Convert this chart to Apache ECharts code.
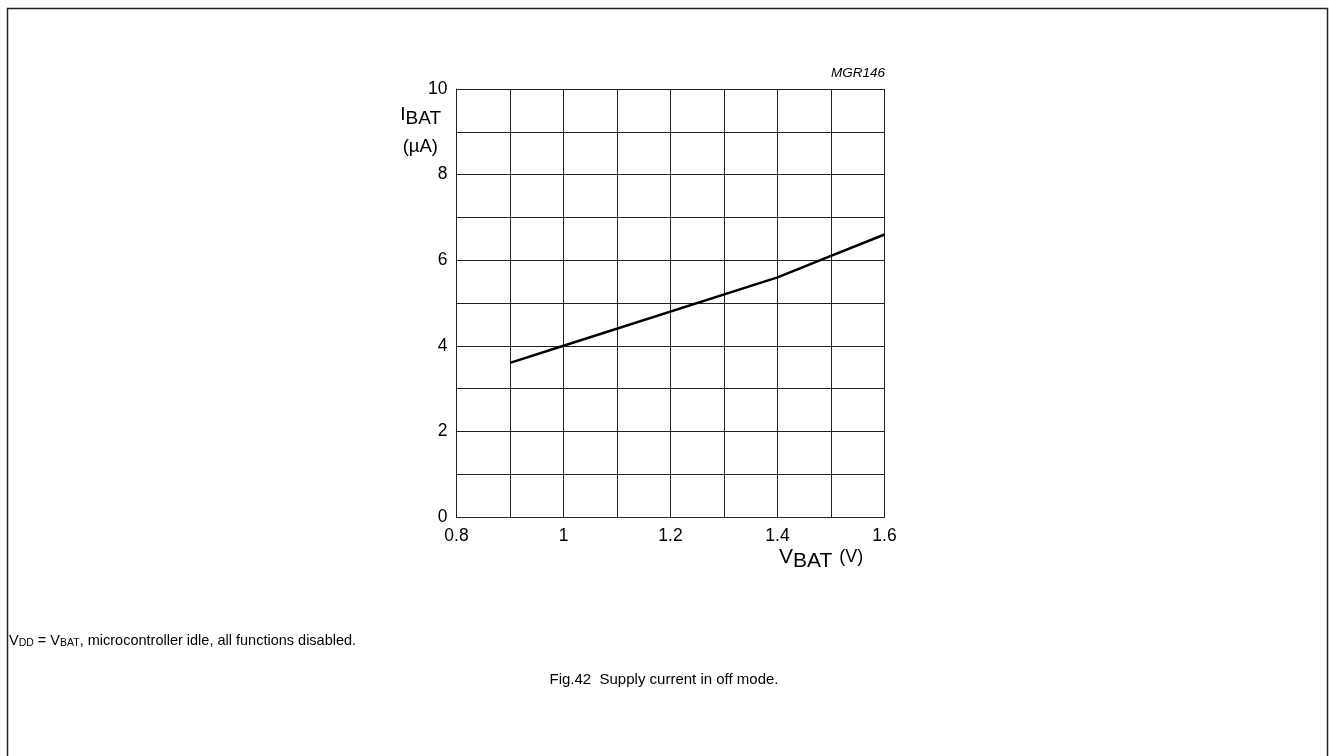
<!DOCTYPE html>
<html>
<head>
<meta charset="utf-8">
<script src="https://cdn.jsdelivr.net/npm/echarts@6/dist/echarts.min.js"></script>
<style>
html,body{margin:0;padding:0;background:#fff;}
#c{width:1329px;height:756px;}
</style>
</head>
<body>
<div id="c"></div>
<script>
// Data
const vbat = [0.9, 1.0, 1.4, 1.5, 1.6];
const ibat = [3.6, 4.0, 5.6, 6.1, 6.6];
const xTickLabels = ['0.8', '1', '1.2', '1.4', '1.6'];
const yTickLabels = ['0', '2', '4', '6', '8', '10'];

const FONT = '"Liberation Sans", Arial, sans-serif';
const chart = echarts.init(document.getElementById('c'), null, {renderer: 'canvas'});
const gridColor = '#222';

chart.setOption({
  animation: false,
  backgroundColor: '#fff',
  grid: {left: 456.5, top: 89, width: 428, height: 428, outerBoundsMode: 'none', containLabel: false},
  xAxis: {
    type: 'value', min: 0.8, max: 1.6, interval: 0.1,
    axisLine: {show: true, lineStyle: {color: gridColor, width: 1}},
    axisTick: {show: false},
    splitLine: {show: true, lineStyle: {color: gridColor, width: 1}},
    axisLabel: {
      color: '#000', fontFamily: FONT, fontSize: 17.5, margin: 10,
      formatter: function (v) {
        const s = String(Math.round(v * 10) / 10);
        return xTickLabels.indexOf(s) >= 0 ? s : '';
      }
    }
  },
  yAxis: {
    type: 'value', min: 0, max: 10, interval: 1,
    axisLine: {show: true, lineStyle: {color: gridColor, width: 1}},
    axisTick: {show: false},
    splitLine: {show: true, lineStyle: {color: gridColor, width: 1}},
    axisLabel: {
      color: '#000', fontFamily: FONT, fontSize: 17.5, margin: 9,
      padding: [6, 0, 0, 0],
      formatter: function (v) {
        const s = String(Math.round(v));
        return yTickLabels.indexOf(s) >= 0 ? s : '';
      }
    }
  },
  series: [{
    type: 'line',
    data: vbat.map((x, i) => [x, ibat[i]]),
    showSymbol: false,
    lineStyle: {color: '#000', width: 2.5},
    z: 5
  }],
  graphic: [
    {type: 'rect', shape: {x: 7.5, y: 8.5, width: 1320, height: 800},
     style: {fill: 'none', stroke: '#222', lineWidth: 1.5}, silent: true},
    {type: 'text', x: 441, y: 105, style: {
      text: '{a|I}{b|BAT}', align: 'right', verticalAlign: 'top',
      rich: {
        a: {fontFamily: FONT, fontSize: 19, fill: '#000', lineHeight: 19},
        b: {fontFamily: FONT, fontSize: 19, fill: '#000', padding: [8, 0, 0, 0], lineHeight: 19}
      }
    }},
    {type: 'text', x: 438, y: 137, style: {
      text: '(\u00b5A)', align: 'right', verticalAlign: 'top',
      fontFamily: FONT, fontSize: 18.5, fill: '#000'
    }},
    {type: 'text', x: 885, y: 66, style: {
      text: 'MGR146', align: 'right', verticalAlign: 'top',
      fontFamily: FONT, fontSize: 13.5, fontStyle: 'italic', fill: '#000'
    }},
    {type: 'text', x: 779, y: 547, style: {
      text: '{a|V}{b|BAT}{c|(V)}', align: 'left', verticalAlign: 'top',
      rich: {
        a: {fontFamily: FONT, fontSize: 21, fill: '#000', lineHeight: 20},
        b: {fontFamily: FONT, fontSize: 21, fill: '#000', padding: [9, 0, 0, 0], lineHeight: 20},
        c: {fontFamily: FONT, fontSize: 18, fill: '#000', lineHeight: 20, padding: [0, 0, 0, 7]}
      }
    }},
    {type: 'text', x: 9, y: 633, style: {
      text: '{a|V}{s|DD}{a| = V}{s|BAT}{a|, microcontroller idle, all functions disabled.}',
      align: 'left', verticalAlign: 'top',
      rich: {
        a: {fontFamily: FONT, fontSize: 14.5, fill: '#000', lineHeight: 16},
        s: {fontFamily: FONT, fontSize: 10.5, fill: '#000', padding: [5, 0, 0, 0], lineHeight: 16}
      }
    }},
    {type: 'text', x: 664, y: 672, style: {
      text: 'Fig.42  Supply current in off mode.', align: 'center', verticalAlign: 'top',
      fontFamily: FONT, fontSize: 15, fill: '#000'
    }}
  ]
});
</script>
</body>
</html>
